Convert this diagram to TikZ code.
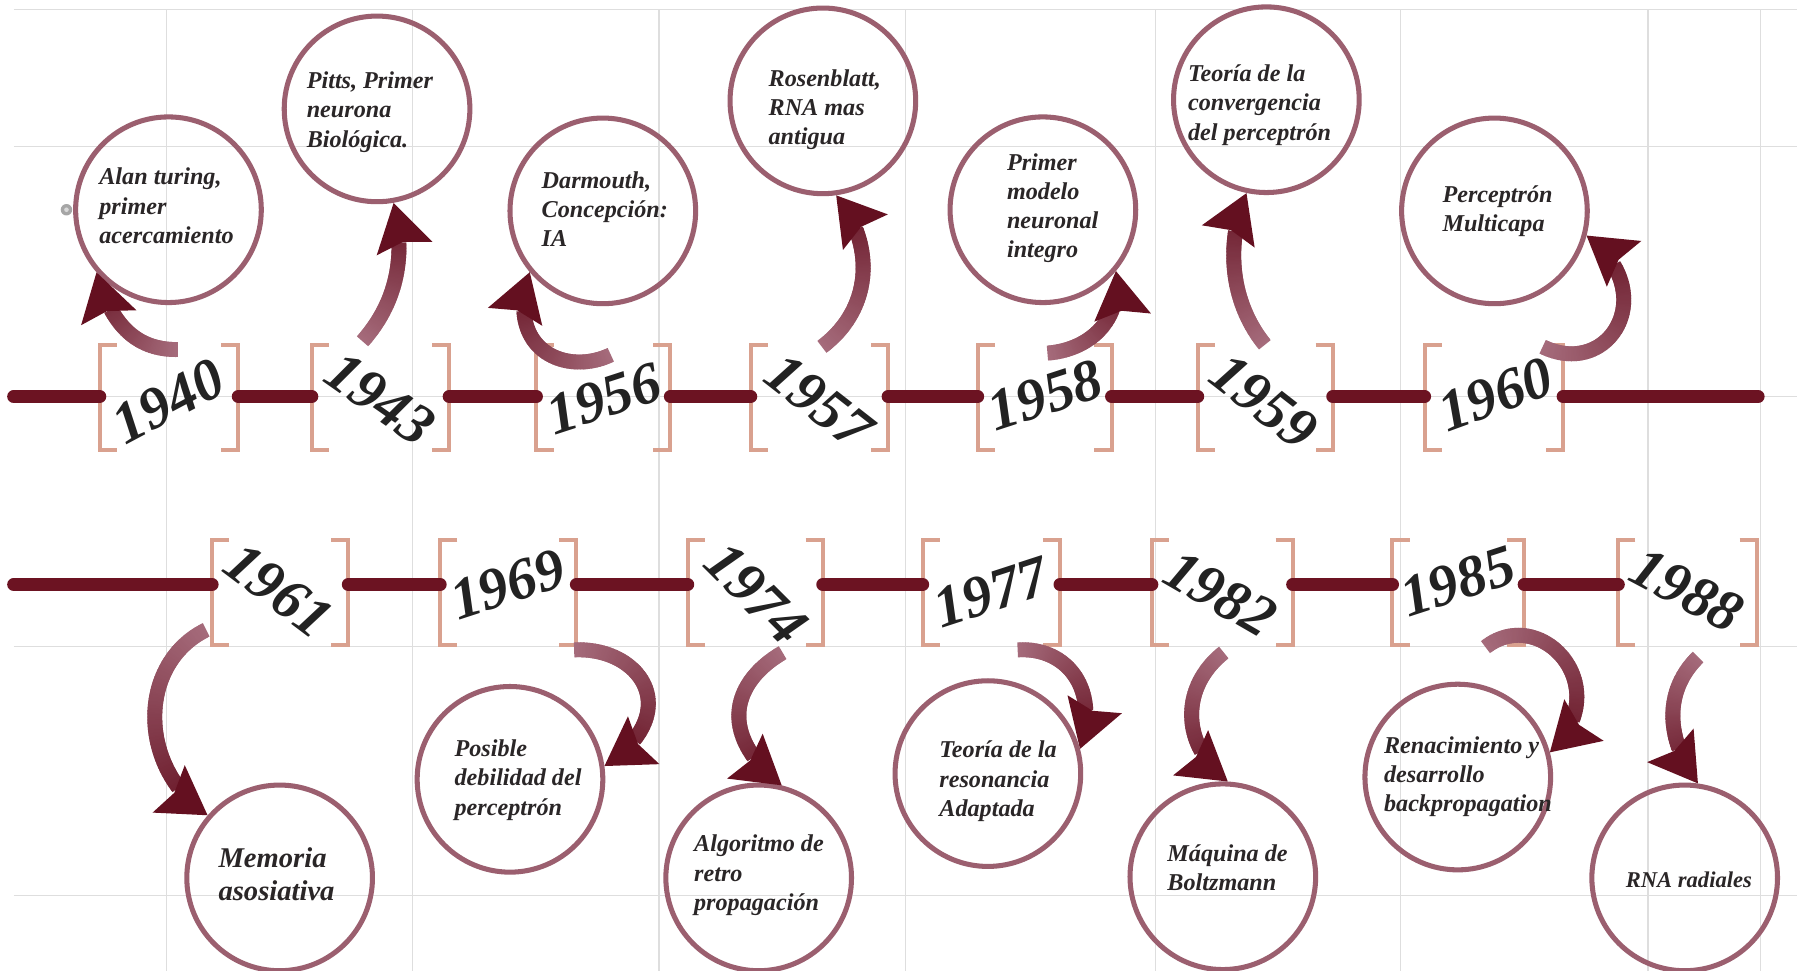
\documentclass[tikz,border=0pt]{standalone}
\usepackage{fontspec}
\setmainfont{Liberation Serif}
\usetikzlibrary{decorations.markings}
\definecolor{gridc}{HTML}{DEDEDE}
\definecolor{linec}{HTML}{6C1322}
\definecolor{brkc}{HTML}{D9A18F}
\definecolor{ringc}{HTML}{9B5F6F}
\definecolor{txtc}{HTML}{2A2627}
\definecolor{yrc}{HTML}{222222}
\definecolor{tailc}{HTML}{A56B7B}
\definecolor{headc}{HTML}{641020}
\tikzset{
  gridl/.style={draw=gridc, line width=0.1mm},
  tl/.style={draw=linec, line width=1.15mm, line cap=round},
  brk/.style={draw=brkc, line width=0.35mm},
  ev/.style={circle, draw=ringc, line width=0.44mm, minimum size=16.2mm, inner sep=0pt},
  lbl/.style={align=left, anchor=north west, inner sep=0pt, text=txtc,
    font=\fontsize{6}{7.25}\selectfont\bfseries\itshape},
  yr/.style={inner sep=0pt, text=yrc, font=\fontsize{14.5}{14.5}\selectfont\bfseries\itshape},
  garrow/.style={
    decoration={markings,
      mark=between positions 0 and -3.5mm step 0.35pt with {%
        \pgfmathtruncatemacro\pp{100*\pgfkeysvalueof{/pgf/decoration/mark info/distance from start}/\pgfdecoratedpathlength}%
        \fill[headc!\pp!tailc] (-0.3pt,-0.65mm) rectangle (0.3pt,0.65mm);},
      mark=at position 1 with {\fill[headc] (0,0) -- (-4.1mm,2.5mm) -- (-3.5mm,0) -- (-4.1mm,-2.5mm) -- cycle;}},
    decorate}
}
\begin{document}
\begin{tikzpicture}[x=0.1mm,y=-0.1mm]
\fill[white] (0,0) rectangle (1568,847);
\useasboundingbox (0,0) rectangle (1568,847);
% grid
\foreach \gx in {145,360,575,790,1008,1222,1438,1536} \draw[gridl] (\gx,8) -- (\gx,847);
\foreach \gy in {8,128,346,564,781} \draw[gridl] (12,\gy) -- (1568,\gy);
% small icon
\fill[gray!70] (58,183) circle (5);
\fill[gray!30] (58,183) circle (2);
% brackets and their coordinates
\foreach \nm/\xl/\xr/\yy/\ya/\yb in {
  a/87/208/346/301/393, b/272/392/346/301/393, c/468/585/346/301/393,
  d/655/775/346/301/393, e/853/970/346/301/393, f/1045/1163/346/301/393,
  g/1243/1364/346/301/393,
  h/185/304/510/471/563, i/384/503/510/471/563, j/600/718/510/471/563,
  k/805/925/510/471/563, l/1005/1128/510/471/563, m/1215/1330/510/471/563,
  n/1412/1533/510/471/563}{
  \coordinate (\nm L) at (\xl,\yy);
  \coordinate (\nm R) at (\xr,\yy);
  \draw[brk] (\xl+15,\ya) -- (\xl,\ya) -- (\xl,\yb) -- (\xl+15,\yb);
  \draw[brk] (\xr-15,\ya) -- (\xr,\ya) -- (\xr,\yb) -- (\xr-15,\yb);
}
\coordinate (top0) at (12,346);
\coordinate (top1) at (1534,346);
\coordinate (bot0) at (12,510);
% timelines
\draw[tl] (top0) -- (aL) (aR) -- (bL) (bR) -- (cL) (cR) -- (dL) (dR) -- (eL) (eR) -- (fL) (fR) -- (gL) (gR) -- (top1);
\draw[tl] (bot0) -- (hL) (hR) -- (iL) (iR) -- (jL) (jR) -- (kL) (kR) -- (lL) (lR) -- (mL) (mR) -- (nL);
% years
\node[yr, rotate=28]  (y1940) at (147,350) {1940};
\node[yr, rotate=-35] (y1943) at (332,348) {1943};
\node[yr, rotate=18]  (y1956) at (527,348) {1956};
\node[yr, rotate=-38] (y1957) at (715,350) {1957};
\node[yr, rotate=18]  (y1958) at (912,345) {1958};
\node[yr, rotate=-38] (y1959) at (1103,350) {1959};
\node[yr, rotate=20]  (y1960) at (1305,344) {1960};
\node[yr, rotate=-37] (y1961) at (243,515) {1961};
\node[yr, rotate=18]  (y1969) at (443,510) {1969};
\node[yr, rotate=-45] (y1974) at (660,518) {1974};
\node[yr, rotate=18]  (y1977) at (865,517) {1977};
\node[yr, rotate=-30] (y1982) at (1065,518) {1982};
\node[yr, rotate=18]  (y1985) at (1272,507) {1985};
\node[yr, rotate=-28] (y1988) at (1472,515) {1988};
% circles
\node[ev] (c1) at (147,183) {};
\node[ev] (c2) at (329,95) {};
\node[ev] (c3) at (526,184) {};
\node[ev] (c4) at (718,88) {};
\node[ev] (c5) at (910,183) {};
\node[ev] (c6) at (1105,87) {};
\node[ev] (c7) at (1304,184) {};
\node[ev] (c8) at (244,766) {};
\node[ev] (c9) at (445,680) {};
\node[ev] (c10) at (662,766) {};
\node[ev] (c11) at (862,675) {};
\node[ev] (c12) at (1067,765) {};
\node[ev] (c13) at (1272,678) {};
\node[ev] (c14) at (1470,766) {};
% texts
\node[lbl] (t1) at (86,146) {Alan turing,\\primer\\acercamiento};
\node[lbl] (t2) at (267,62) {Pitts, Primer\\neurona\\Biológica.};
\node[lbl] (t3) at (472,149) {Darmouth,\\Concepción:\\IA};
\node[lbl] (t4) at (670,60) {Rosenblatt,\\RNA mas\\antigua};
\node[lbl] (t5) at (878,133) {Primer\\modelo\\neuronal\\integro};
\node[lbl] (t6) at (1036,56) {Teoría de la\\convergencia\\del perceptrón};
\node[lbl] (t7) at (1258,161) {Perceptrón\\Multicapa};
\node[lbl, font=\fontsize{7.1}{8.25}\selectfont\bfseries\itshape] (t8) at (190,739) {Memoria\\asosiativa};
\node[lbl] (t9) at (396,645) {Posible\\debilidad del\\perceptrón};
\node[lbl] (t10) at (605,728) {Algoritmo de\\retro\\propagación};
\node[lbl] (t11) at (819,646) {Teoría de la\\resonancia\\Adaptada};
\node[lbl] (t12) at (1018,736) {Máquina de\\Boltzmann};
\node[lbl] (t13) at (1207,642) {Renacimiento y\\desarrollo\\backpropagation};
\node[lbl, font=\fontsize{5.6}{7}\selectfont\bfseries\itshape] (t14) at (1418,760) {RNA radiales};
% arrow tails
\coordinate (s1) at (154,305);
\coordinate (s2) at (317,297);
\coordinate (s3) at (532,310);
\coordinate (s4) at (718,302);
\coordinate (s5) at (915,308);
\coordinate (s6) at (1103,300);
\coordinate (s7) at (1347,303);
\coordinate (s8) at (179,550);
\coordinate (s9) at (502,567);
\coordinate (s10) at (682,570);
\coordinate (s11) at (889,567);
\coordinate (s12) at (1067,570);
\coordinate (s13) at (1297,564);
\coordinate (s14) at (1481,574);
% arrows
\path[garrow] (s1) .. controls (120,305) and (97,285) .. (c1.221);
\path[garrow] (s2) .. controls (345,265) and (355,225) .. (c2.280);
\path[garrow] (s3) .. controls (493,328) and (440,305) .. (c3.220);
\path[garrow] (s4) .. controls (760,270) and (765,215) .. (c4.278);
\path[garrow] (s5) .. controls (950,305) and (980,280) .. (c5.320);
\path[garrow] (s6) .. controls (1075,265) and (1068,215) .. (c6.258);
\path[garrow] (s7) .. controls (1405,330) and (1450,255) .. (c7.345);
\path[garrow] (s8) .. controls (120,580) and (120,670) .. (c8.139);
\path[garrow] (s9) .. controls (560,565) and (598,622) .. (c9.8);
\path[garrow] (s10) .. controls (640,595) and (625,640) .. (c10.76);
\path[garrow] (s11) .. controls (930,565) and (960,600) .. (c11.15);
\path[garrow] (s12) .. controls (1030,600) and (1030,650) .. (c12.87);
\path[garrow] (s13) .. controls (1345,528) and (1412,600) .. (c13.15);
\path[garrow] (s14) .. controls (1455,600) and (1450,640) .. (c14.82);
\end{tikzpicture}
\end{document}
